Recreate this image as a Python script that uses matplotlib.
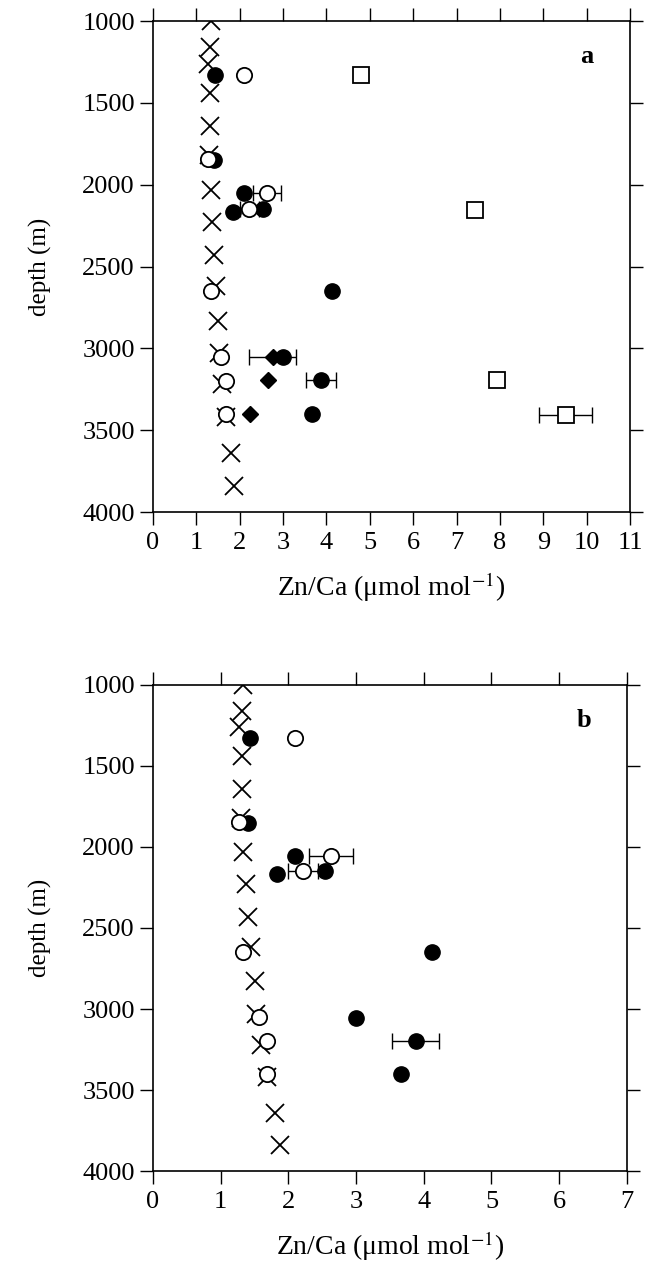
import numpy as np
import matplotlib
matplotlib.use('Agg')
import matplotlib.pyplot as plt

plt.rcParams['font.family'] = ['Liberation Serif', 'DejaVu Serif']
plt.rcParams['mathtext.fontset'] = 'stix'

# Crosses (both panels)
cross_zn = [1.33, 1.31, 1.27, 1.31, 1.31, 1.30, 1.33, 1.37, 1.40, 1.45, 1.51, 1.53, 1.60, 1.68, 1.80, 1.88]
cross_depth = [1000, 1160, 1260, 1440, 1640, 1820, 2030, 2230, 2430, 2620, 2830, 3030, 3220, 3420, 3640, 3840]

# Filled circles
filled_zn = [1.43, 1.41, 2.10, 1.84, 2.54, 4.12, 3.00, 3.88, 3.66]
filled_depth = [1330, 1849, 2053, 2165, 2150, 2648, 3055, 3195, 3403]
filled_err = [0, 0, 0, 0, 0, 0, 0, 0.35, 0]

# Open circles
open_zn = [2.10, 1.27, 2.63, 2.22, 1.33, 1.57, 1.68, 1.68]
open_depth = [1330, 1845, 2053, 2150, 2648, 3050, 3197, 3401]
open_err = [0, 0, 0.33, 0.22, 0, 0, 0, 0]

# Open squares (panel a only)
square_zn = [4.79, 7.42, 7.93, 9.51]
square_depth = [1330, 2155, 3193, 3407]
square_err = [0, 0, 0, 0.6]

# Filled diamonds (panel a only)
diamond_zn = [2.76, 2.66, 2.24]
diamond_depth = [3055, 3193, 3403]
diamond_err = [0.55, 0, 0]

xlabel = 'Zn/Ca (μmol mol$^{-1}$)'

fig = plt.figure(figsize=(6.45, 12.77), dpi=100)
ax_a = fig.add_axes([0.237, 0.599, 0.740, 0.3845])
ax_b = fig.add_axes([0.237, 0.083, 0.735, 0.3806])


def draw_errors(ax, x, y, err):
    for xi, yi, ei in zip(x, y, err):
        if ei > 0:
            ax.errorbar(xi, yi, xerr=ei, fmt='none', ecolor='black',
                        elinewidth=1.0, capsize=6, capthick=1.0, zorder=1)


def style_axes(ax, xmax, letter):
    ax.set_xlim(0, xmax)
    ax.set_ylim(4000, 1000)
    ax.set_xticks(range(0, xmax + 1))
    ax.set_yticks(range(1000, 4001, 500))
    ax.tick_params(direction='out', length=9.5, width=1.0, labelsize=19,
                   top=True, right=True, labeltop=False, labelright=False)
    ax.tick_params(axis='x', pad=5)
    for s in ax.spines.values():
        s.set_linewidth(1.2)
    ax.set_xlabel(xlabel, fontsize=20, labelpad=12)
    ax.set_ylabel('depth (m)', fontsize=18, labelpad=22)
    ax.text(0.91, 0.927, letter, transform=ax.transAxes, fontsize=19,
            fontweight='bold', ha='center', va='center')


ms = 11
for ax, full in [(ax_a, True), (ax_b, False)]:
    draw_errors(ax, filled_zn, filled_depth, filled_err)
    draw_errors(ax, open_zn, open_depth, open_err)
    ax.plot(cross_zn, cross_depth, 'x', color='black', ms=ms + 2, mew=1.3, zorder=2)
    ax.plot(filled_zn, filled_depth, 'o', mfc='black', mec='black', ms=ms, zorder=3)
    ax.plot(open_zn, open_depth, 'o', mfc='white', mec='black', ms=ms, mew=1.3, zorder=4)
    if full:
        draw_errors(ax, square_zn, square_depth, square_err)
        draw_errors(ax, diamond_zn, diamond_depth, diamond_err)
        ax.plot(square_zn, square_depth, 's', mfc='white', mec='black', ms=ms, mew=1.3, zorder=4)
        ax.plot(diamond_zn, diamond_depth, 'D', mfc='black', mec='black', ms=8, zorder=4)

style_axes(ax_a, 11, 'a')
style_axes(ax_b, 7, 'b')

fig.savefig('out.png', dpi=100)
